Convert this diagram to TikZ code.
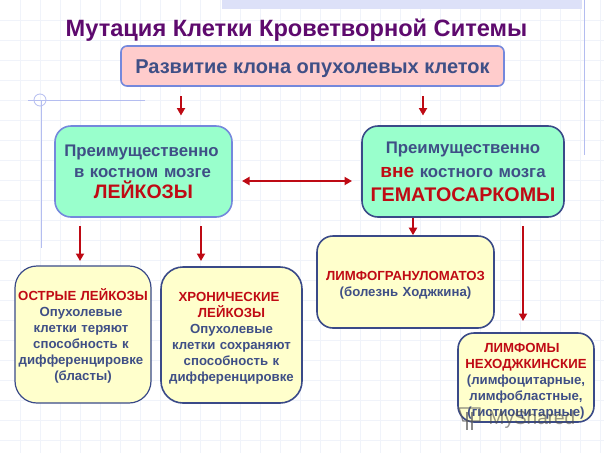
\documentclass[tikz,border=0pt]{standalone}
\usepackage{fontspec}
\setmainfont{Liberation Sans}
\usetikzlibrary{arrows.meta}
\definecolor{txtblue}{HTML}{3F4F86}
\definecolor{txtred}{HTML}{C00A14}
\definecolor{arrred}{HTML}{BE0A14}
\definecolor{titlepurple}{HTML}{5E0A6E}
\definecolor{gridc}{HTML}{F0F3FA}
\definecolor{guide}{HTML}{B4BDF0}
\definecolor{greenfill}{HTML}{99FFCC}
\definecolor{yellowfill}{HTML}{FFFFCC}
\definecolor{pinkfill}{HTML}{FFCCCC}
\definecolor{lightborder}{HTML}{7488DC}
\definecolor{darkborder}{HTML}{3A4A88}
\newcommand{\shl}{\hspace*{-4pt}}
\tikzset{
  x=1pt,y=-1pt,
  boxbase/.style={anchor=center,inner sep=0pt,align=center,text=txtblue,font=\bfseries,line width=1.6pt},
  arr/.style={draw=arrred,line width=2.4pt,-{Triangle[length=7.5pt,width=8pt]}},
  arrboth/.style={draw=arrred,line width=2.2pt,{Triangle[length=7.5pt,width=8pt]}-{Triangle[length=7.5pt,width=8pt]}},
  yellowbox/.style={boxbase,fill=yellowfill,draw=darkborder,font=\fontsize{13.2}{16}\selectfont\bfseries},
  greenbox/.style={boxbase,fill=greenfill,rounded corners=16pt,text width=175pt},
}
\begin{document}
\begin{tikzpicture}
\useasboundingbox (0,0) rectangle (604,453);
\fill[white] (0,0) rectangle (604,453);
\foreach \g in {20,40,...,600} \draw[gridc,line width=.7pt] (\g,0) -- (\g,453);
\foreach \g in {20,40,...,440} \draw[gridc,line width=.7pt] (0,\g) -- (604,\g);
\fill[guide!45] (222,0) rectangle (582,9);
\draw[guide,line width=1pt] (584,0) -- (584,155);
\draw[guide,line width=.8pt] (28,100) -- (145,100);
\draw[guide,line width=.8pt] (41,100) -- (41,248);
\draw[guide,line width=.8pt] (40,100) circle (6);

\node[anchor=center,text=titlepurple,font=\fontsize{23.6}{26}\selectfont\bfseries] (title) at (296.5,30.5) {Мутация Клетки Кроветворной Ситемы};

\node[boxbase,fill=pinkfill,draw=lightborder,rounded corners=6pt,minimum width=383pt,minimum height=40pt,text height=16pt,text depth=2pt,font=\fontsize{20}{24}\selectfont\bfseries] (clone) at (312.5,66) {Развитие клона опухолевых клеток};

\node[greenbox,draw=lightborder,minimum width=177pt,minimum height=91pt,font=\fontsize{16.8}{21}\selectfont\bfseries] (leuk) at (143.5,171.5)
 {\shl Преимущественно\\\hspace*{-2pt}в костном мозге\\{\fontsize{19.5}{21}\selectfont\color{txtred}ЛЕЙКОЗЫ}};
\node[boxbase,fill=greenfill,rounded corners=16pt,text width=198pt,draw=darkborder,minimum width=202pt,minimum height=91pt,font=\fontsize{16.8}{24}\selectfont\bfseries] (hema) at (463,171.5)
 {Преимущественно\\{\fontsize{19}{24}\selectfont\color{txtred}вне} костного мозга\\{\fontsize{19.7}{24}\selectfont\color{txtred}ГЕМАТОСАРКОМЫ}};

\node[yellowbox,rounded corners=22pt,minimum width=136pt,minimum height=137pt,text width=136pt,line width=1.2pt] (acute) at (83,334.5)
 {\rule{0pt}{14pt}{\color{txtred}ОСТРЫЕ ЛЕЙКОЗЫ}\\\shl Опухолевые\\\shl клетки теряют\\\shl способность к\\\shl дифференцировке\\(бласты)};
\node[yellowbox,rounded corners=22pt,minimum width=141pt,minimum height=136pt,text width=141pt] (chronic) at (231.5,335)
 {\rule{0pt}{16pt}{\color{txtred}\hspace*{-5pt}ХРОНИЧЕСКИЕ\\ЛЕЙКОЗЫ}\\Опухолевые\\клетки сохраняют\\способность к\\дифференцировке};
\node[yellowbox,rounded corners=16pt,minimum width=177pt,minimum height=92pt,text width=177pt] (hodg) at (405.5,282)
 {\rule{0pt}{16pt}{\color{txtred}ЛИМФОГРАНУЛОМАТОЗ}\\(болезнь Ходжкина)};
\node[yellowbox,rounded corners=16pt,minimum width=136pt,minimum height=89pt,text width=136pt] (nonh) at (526,377.5)
 {\rule{0pt}{17pt}{\color{txtred}\hspace*{-8pt}ЛИМФОМЫ\\НЕХОДЖКИНСКИЕ}\\(лимфоцитарные,\\лимфобластные,\\(гистиоцитарные)};

\coordinate (a1s) at (181,96); \coordinate (a1e) at (181,115.5);
\coordinate (a2s) at (423,96); \coordinate (a2e) at (423,115.5);
\coordinate (b1s) at (80,226); \coordinate (b1e) at (80,261);
\coordinate (b2s) at (201,226); \coordinate (b2e) at (201,261);
\coordinate (c2s) at (523,226); \coordinate (c2e) at (523,321);
\coordinate (ds) at (242,181); \coordinate (de) at (352,181);
\draw[arr] (a1s) -- (a1e);
\draw[arr] (a2s) -- (a2e);
\draw[arr] (b1s) -- (b1e);
\draw[arr] (b2s) -- (b2e);
\draw[arr] (c2s) -- (c2e);
\draw[arr] (hema.south -| 413,0) -- (hodg.north -| 413,0);
\draw[arrboth] (ds) -- (de);

\begin{scope}[opacity=.7,line width=1.4pt]
\draw[gray!70!black] (459,408) -- (480,408) -- (480,421) -- (463,421) -- cycle;
\draw[gray!70!black] (467,412) -- (467,430) (472,412) -- (472,430);
\end{scope}
\node[anchor=center,text=gray!60!black,opacity=.6,font=\fontsize{19}{22}\selectfont] (mark) at (532,420) {MyShared};
\end{tikzpicture}
\end{document}
